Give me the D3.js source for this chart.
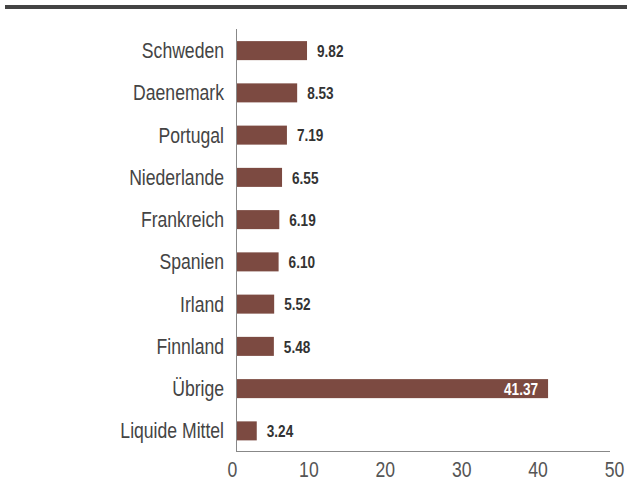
<!DOCTYPE html>
<html>
<head>
<meta charset="utf-8">
<script src="https://cdn.jsdelivr.net/npm/d3@7"></script>
<style>
  html, body { margin: 0; padding: 0; background: #fff; }
  svg { display: block; }
</style>
</head>
<body>
<svg id="chart" width="627" height="493"></svg>
<script>
const categories = ["Schweden", "Daenemark", "Portugal", "Niederlande", "Frankreich", "Spanien", "Irland", "Finnland", "Übrige", "Liquide Mittel"];
const values = [9.82, 8.53, 7.19, 6.55, 6.19, 6.10, 5.52, 5.48, 41.37, 3.24];
const valueLabels = ["9.82", "8.53", "7.19", "6.55", "6.19", "6.10", "5.52", "5.48", "41.37", "3.24"];
const tickValues = [0, 10, 20, 30, 40, 50];

const svg = d3.select("#chart");
const font = "'Liberation Sans', Arial, sans-serif";
const barColor = "#7c4a41";
const squeeze = 0.8;

// top rule
svg.append("rect").attr("x", 5).attr("y", 5).attr("width", 622).attr("height", 4).attr("fill", "#444");

const x = d3.scaleLinear().domain([0, 50]).range([232, 614]);
const axisX = 237;
const y = d3.scaleBand().domain(categories).range([29.5, 452]).paddingInner(0.55).paddingOuter(0.275);

// bars
svg.append("g").selectAll("rect").data(values).join("rect")
  .attr("x", axisX)
  .attr("y", (d, i) => y(categories[i]))
  .attr("width", d => x(d) - axisX)
  .attr("height", y.bandwidth())
  .attr("fill", barColor);

// value labels
svg.append("g").selectAll("g").data(values).join("g")
  .attr("transform", (d, i) => `translate(${d > 30 ? x(d) - 10 : x(d) + 10},${y(categories[i]) + y.bandwidth() / 2})`)
  .append("text")
  .attr("transform", `scale(${squeeze},1)`)
  .attr("dy", "0.36em")
  .attr("text-anchor", d => d > 30 ? "end" : "start")
  .attr("font-family", font)
  .attr("font-weight", "bold")
  .attr("font-size", 17)
  .attr("fill", d => d > 30 ? "#fff" : "#333")
  .text((d, i) => valueLabels[i]);

// y axis
const yAxis = d3.axisLeft(y).tickSize(0).tickPadding(0);
const gy = svg.append("g").attr("transform", `translate(${axisX},0)`).call(yAxis);
gy.select(".domain").remove();
gy.selectAll("text")
  .attr("x", 0)
  .attr("dy", "0.34em")
  .attr("transform", `translate(-13,0) scale(${squeeze},1)`)
  .attr("font-family", font).attr("font-size", 22).attr("fill", "#444");
svg.append("line").attr("x1", axisX - 0.5).attr("x2", axisX - 0.5).attr("y1", 29).attr("y2", 452)
  .attr("stroke", "#888").attr("stroke-width", 1);

// x axis
const xAxis = d3.axisBottom(x).tickValues(tickValues).tickSize(0).tickPadding(0).tickFormat(d3.format("d"));
const gx = svg.append("g").attr("transform", "translate(0,452)").call(xAxis);
gx.select(".domain").remove();
gx.selectAll("text")
  .attr("y", 0).attr("dy", 0)
  .attr("transform", `translate(0,25) scale(${squeeze},1)`)
  .attr("font-family", font).attr("font-size", 22).attr("fill", "#555");
svg.append("line").attr("x1", axisX - 1).attr("x2", 610).attr("y1", 451.5).attr("y2", 451.5)
  .attr("stroke", "#888").attr("stroke-width", 1);
</script>
</body>
</html>
